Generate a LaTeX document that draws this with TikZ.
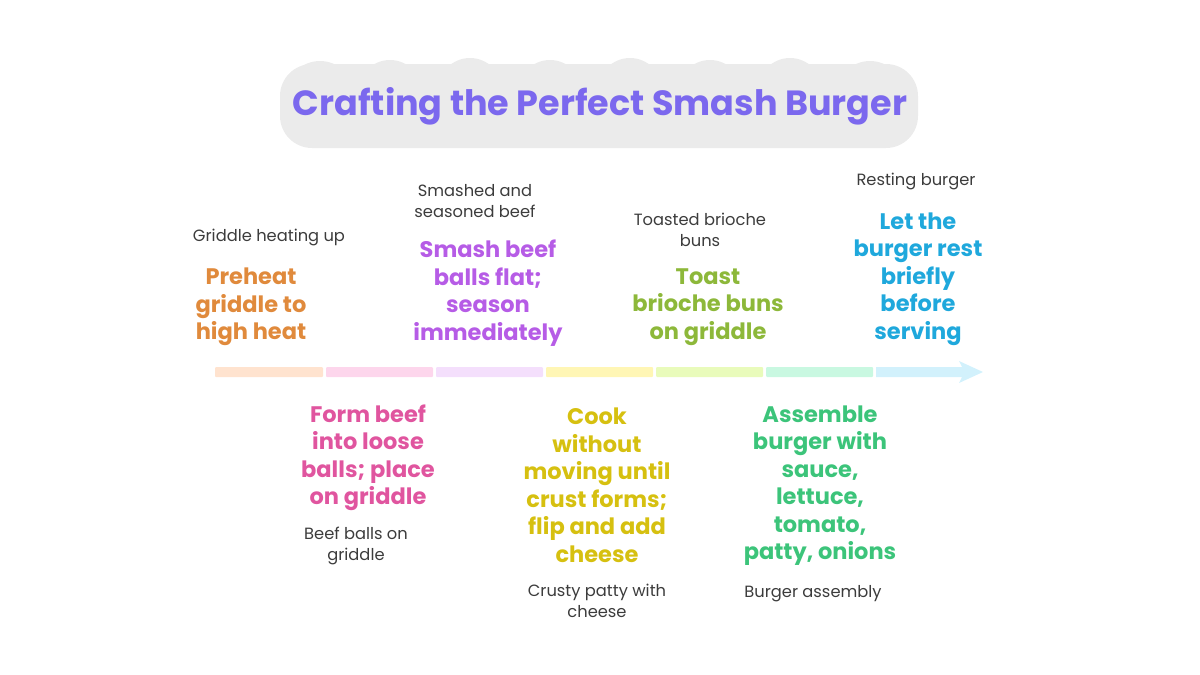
\documentclass[tikz,border=0pt]{standalone}
\usepackage{fontspec}
\setmainfont{Poppins}
\begin{document}
\begin{tikzpicture}[x=1pt,y=-1pt,
  mainlbl/.style={font=\fontsize{22.5}{27.5}\selectfont\bfseries, align=center, inner sep=0pt},
  caplbl/.style={font=\fontsize{16.3}{21}\selectfont, text=capgray, align=center, inner sep=0pt},
  seg/.style={rounded corners=1pt, draw=none}]
\definecolor{capgray}{HTML}{3C3C3C}
\definecolor{cloudgray}{HTML}{EBEBEB}
\definecolor{titlec}{HTML}{7B68EE}
\definecolor{c1}{HTML}{E08A3C}\definecolor{b1}{HTML}{FFE3CF}
\definecolor{c2}{HTML}{E0559F}\definecolor{b2}{HTML}{FDD6EC}
\definecolor{c3}{HTML}{B65CE6}\definecolor{b3}{HTML}{F4DFFC}
\definecolor{c4}{HTML}{D6C010}\definecolor{b4}{HTML}{FFF6B5}
\definecolor{c5}{HTML}{8DB83A}\definecolor{b5}{HTML}{E9FBBB}
\definecolor{c6}{HTML}{3CC47A}\definecolor{b6}{HTML}{C9F8E1}
\definecolor{c7}{HTML}{1FA8DC}\definecolor{b7}{HTML}{D2F1FC}
\useasboundingbox (0,0) rectangle (1200,675);
% title cloud
\fill[cloudgray, rounded corners=32] (280,64) rectangle (918,148);
\foreach \cx/\cy/\r in {320/95/34, 390/92/32, 470/90/32, 550/92/32, 630/90/32, 710/92/32, 790/90/32, 870/95/34,
  320/115/32, 400/118/30, 480/118/30, 560/118/30, 640/118/30, 720/118/30, 800/118/30, 875/115/32}
  \fill[cloudgray] (\cx,\cy) circle (\r);
\node[font=\fontsize{35}{40}\selectfont\bfseries, text=titlec, inner sep=0pt] (title) at (600,106) {Crafting the Perfect Smash Burger};
% timeline bar
\fill[seg, b1] (215,367) rectangle (323,377);
\fill[seg, b2] (326,367) rectangle (433,377);
\fill[seg, b3] (436,367) rectangle (543,377);
\fill[seg, b4] (546,367) rectangle (653,377);
\fill[seg, b5] (656,367) rectangle (763,377);
\fill[seg, b6] (766,367) rectangle (873,377);
\fill[b7] (876,367) -- (962,367) -- (959,361) -- (983,372) -- (959,383) -- (962,377) -- (876,377) -- cycle;
% steps
\node[mainlbl, text=c1] (m1) at (251,307) {Preheat\\griddle to\\high heat};
\node[caplbl] (k1) at (269,237) {Griddle heating up};
\node[mainlbl, text=c2] (m2) at (368,458) {Form beef\\into loose\\balls; place\\on griddle};
\node[caplbl] (k2) at (356,546) {Beef balls on\\griddle};
\node[mainlbl, text=c3] (m3) at (488,293) {Smash beef\\balls flat;\\season\\immediately};
\node[caplbl] (k3) at (475,201.5) {Smashed and\\seasoned beef};
\node[mainlbl, text=c4] (m4) at (597,485.5) {Cook\\without\\moving until\\crust forms;\\flip and add\\cheese};
\node[caplbl] (k4) at (597,601) {Crusty patty with\\cheese};
\node[mainlbl, text=c5] (m5) at (708,307) {Toast\\brioche buns\\on griddle};
\node[caplbl] (k5) at (700,229.5) {Toasted brioche\\buns};
\node[mainlbl, text=c6] (m6) at (820,485.5) {Assemble\\burger with\\sauce,\\lettuce,\\tomato,\\patty, onions};
\node[caplbl] (k6) at (813,594) {Burger assembly};
\node[mainlbl, text=c7] (m7) at (918,279) {Let the\\burger rest\\briefly\\before\\serving};
\node[caplbl] (k7) at (916,181) {Resting burger};
\end{tikzpicture}
\end{document}
